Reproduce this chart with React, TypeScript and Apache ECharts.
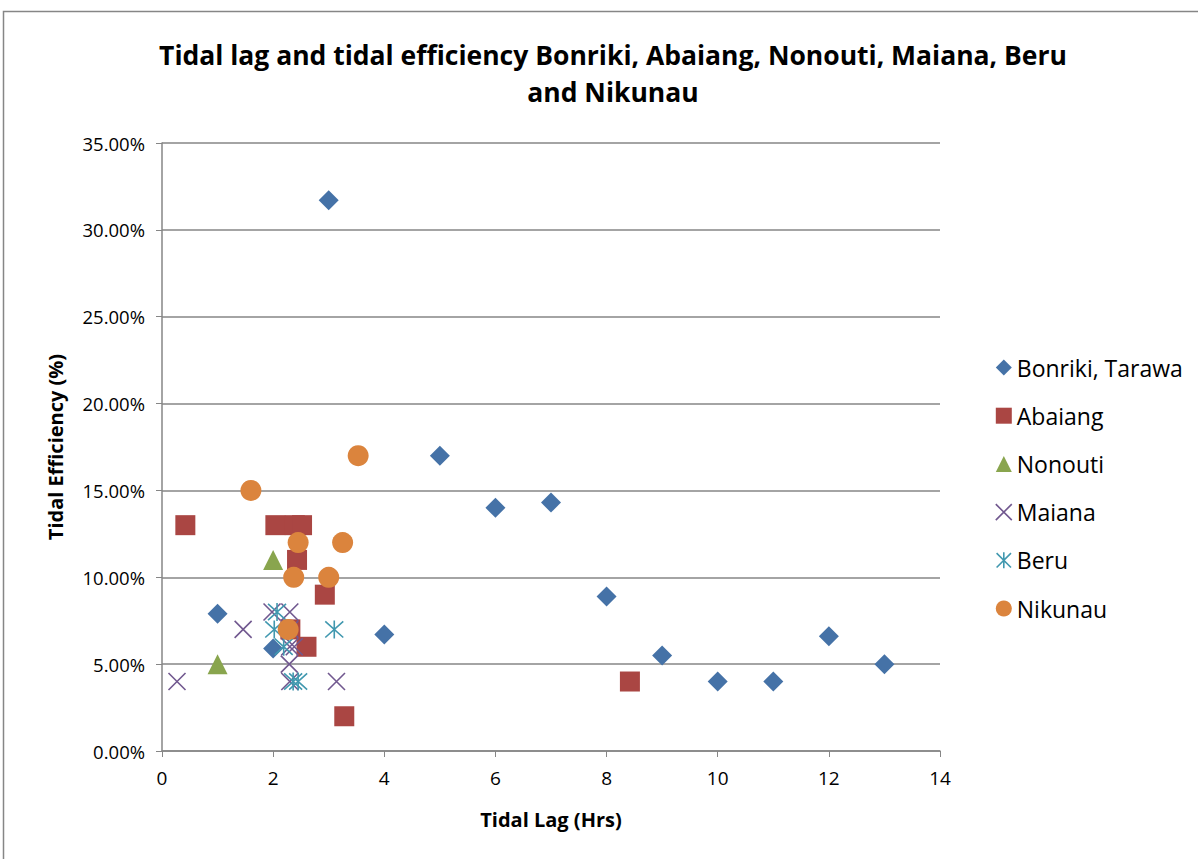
import React, { useEffect, useRef } from "react";
import * as echarts from "echarts";

const titleText = "Tidal lag and tidal efficiency Bonriki, Abaiang, Nonouti, Maiana, Beru\nand Nikunau";
const xAxisName = "Tidal Lag (Hrs)";
const yAxisName = "Tidal Efficiency (%)";

const seriesNames = ["Bonriki, Tarawa", "Abaiang", "Nonouti", "Maiana", "Beru", "Nikunau"];

// [tidal lag (hrs), tidal efficiency (%)]
const bonriki: number[][] = [
  [1, 7.9], [2, 5.9], [3, 31.7], [4, 6.7], [5, 17.0], [6, 14.0], [7, 14.3],
  [8, 8.9], [9, 5.5], [10, 4.0], [11, 4.0], [12, 6.6], [13, 5.0],
];
const abaiang: number[][] = [
  [0.42, 13.0], [2.04, 13.0], [2.39, 13.0], [2.52, 13.0], [2.43, 11.0],
  [2.93, 9.0], [2.31, 7.0], [2.6, 6.0], [3.28, 2.0], [8.42, 4.0],
];
const nonouti: number[][] = [
  [2.0, 11.0], [1.0, 5.0],
];
const maiana: number[][] = [
  [0.27, 4.0], [1.46, 7.0], [1.98, 8.0], [2.3, 8.0], [2.3, 7.0], [2.3, 6.0],
  [2.38, 6.0], [2.29, 5.0], [2.3, 4.0], [3.14, 4.0],
];
const beru: number[][] = [
  [2.07, 8.0], [2.02, 7.0], [2.19, 6.0], [2.36, 4.0], [2.45, 4.0], [3.1, 7.0],
];
const nikunau: number[][] = [
  [1.6, 15.0], [3.53, 17.0], [2.45, 12.0], [3.25, 12.0], [2.37, 10.0], [3.0, 10.0], [2.27, 7.0],
];

const colors = ["#4572A7", "#AA4643", "#89A54E", "#71588F", "#4198AF", "#DB843D"];
const FONT = "'Open Sans', 'Liberation Sans', sans-serif";

const crossPath = "path://M0,0L10,10M10,0L0,10";
const starPath = "path://M5,0L5,10M0.5,0.5L9.5,9.5M9.5,0.5L0.5,9.5";

export default function App() {
  const ref = useRef<HTMLDivElement>(null);
  useEffect(() => {
    if (!ref.current) return;
    const chart = echarts.init(ref.current, undefined, { renderer: "svg" });
    const toPct = (arr: number[][]) => arr.map((p) => [p[0], p[1] / 100]);
    const datasets = [bonriki, abaiang, nonouti, maiana, beru, nikunau];
    const symbols = ["diamond", "rect", "triangle", crossPath, starPath, "circle"];
    const sizes = [20, 20, 20, 17, 18, 21];
    const series = datasets.map((d, i) => {
      const strokeOnly = i === 3 || i === 4;
      return {
        name: seriesNames[i],
        type: "scatter",
        data: toPct(d),
        symbol: symbols[i],
        symbolSize: sizes[i],
        itemStyle: strokeOnly
          ? { color: "rgba(0,0,0,0)", borderColor: colors[i], borderWidth: 1.6, opacity: 1 }
          : { color: colors[i], opacity: 1 },
        emphasis: { disabled: true },
      };
    });
    chart.setOption({
      animation: false,
      color: colors,
      title: {
        text: titleText,
        left: 608,
        top: 31,
        textAlign: "center",
        textStyle: { fontFamily: FONT, fontSize: 26.5, fontWeight: "bold", color: "#000", lineHeight: 37 },
      },
      grid: { left: 162, right: 258, top: 143, bottom: 108, containLabel: false },
      xAxis: {
        type: "value",
        min: 0,
        max: 14,
        interval: 2,
        name: xAxisName,
        nameLocation: "middle",
        nameGap: 58,
        nameTextStyle: { fontFamily: FONT, fontSize: 20, fontWeight: "bold", color: "#000" },
        axisLine: { show: true, lineStyle: { color: "#868686", width: 1.5 } },
        axisTick: { show: true, length: 6, lineStyle: { color: "#868686" } },
        axisLabel: { fontFamily: FONT, fontSize: 19, color: "#000", margin: 17 },
        splitLine: { show: false },
      },
      yAxis: {
        type: "value",
        min: 0,
        max: 0.35,
        interval: 0.05,
        name: yAxisName,
        nameLocation: "middle",
        nameGap: 97,
        nameTextStyle: { fontFamily: FONT, fontSize: 20, fontWeight: "bold", color: "#000" },
        axisLine: { show: true, lineStyle: { color: "#868686", width: 1.5 } },
        axisTick: { show: true, length: 6, lineStyle: { color: "#868686" } },
        axisLabel: {
          fontFamily: FONT,
          fontSize: 18.5,
          color: "#000",
          margin: 17,
          formatter: (v: number) => (v * 100).toFixed(2) + "%",
        },
        splitLine: { show: true, lineStyle: { color: "#868686", width: 1.5 } },
      },
      legend: {
        orient: "vertical",
        left: 990,
        top: 351,
        itemWidth: 16,
        itemHeight: 16,
        itemGap: 25.2,
        textStyle: { fontFamily: FONT, fontSize: 23, color: "#000", padding: [0, 0, 0, 0] },
        data: seriesNames.map((n, i) => ({
          name: n,
          icon: symbols[i],
          itemStyle:
            i === 3 || i === 4
              ? { color: "rgba(0,0,0,0)", borderColor: colors[i], borderWidth: 1.6 }
              : { color: colors[i] },
        })),
      },
      graphic: [
        {
          type: "rect",
          shape: { x: 3.5, y: 11.5, width: 1200, height: 860 },
          style: { fill: "none", stroke: "#868686", lineWidth: 1.5 },
          silent: true,
          z: -1,
        },
      ],
      series,
    });
    return () => chart.dispose();
  }, []);
  return (
    <div
      ref={ref}
      style={{ position: "absolute", left: 0, top: 0, width: 1198, height: 859, background: "#fff" }}
    />
  );
}
